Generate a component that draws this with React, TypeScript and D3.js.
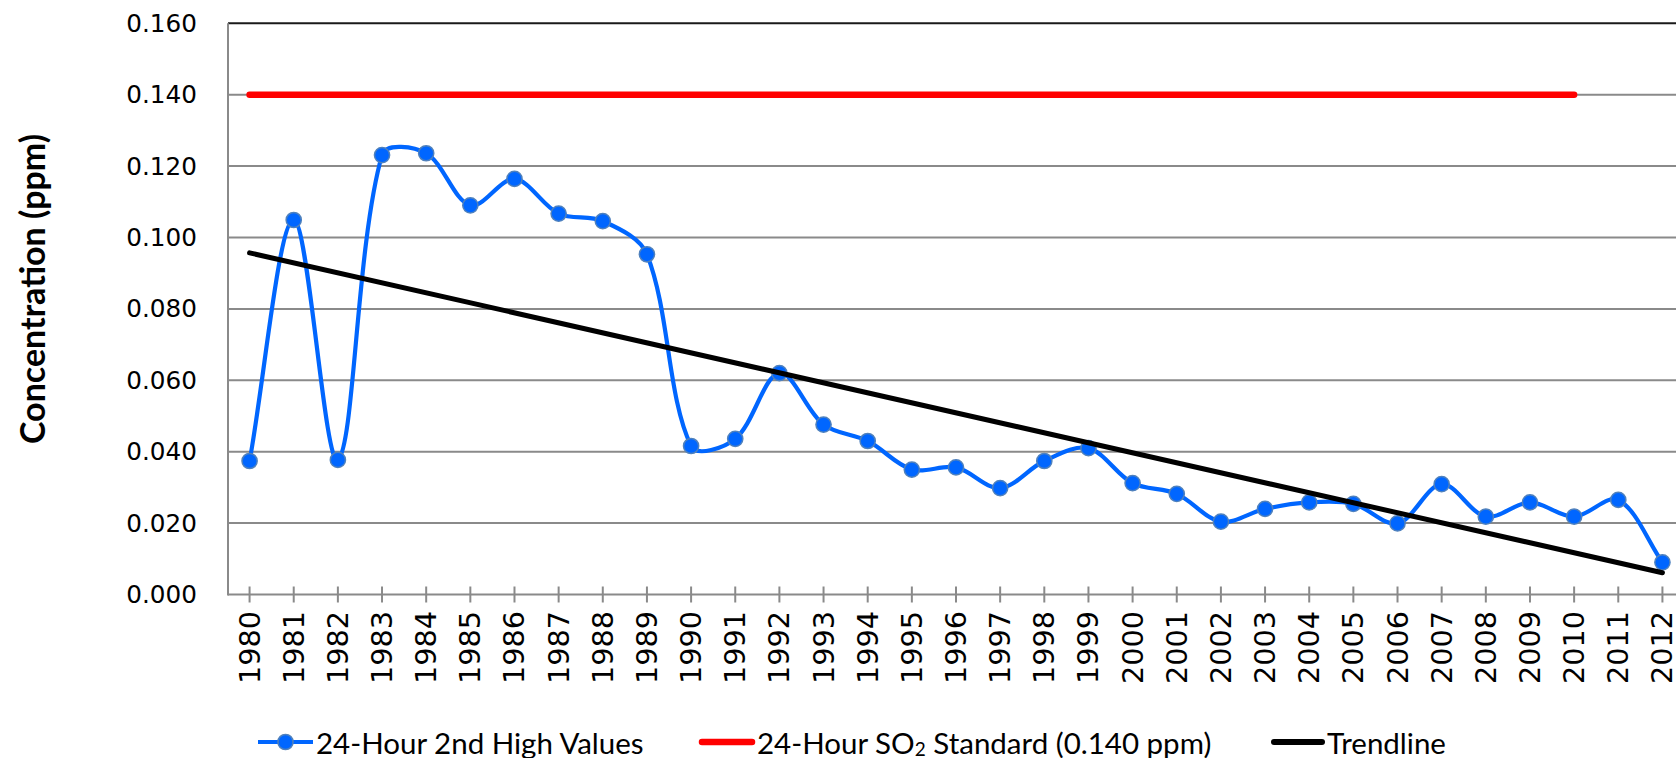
import React from "react";
import * as d3 from "d3";

const years: string[] = [
  "1980","1981","1982","1983","1984","1985","1986","1987","1988","1989",
  "1990","1991","1992","1993","1994","1995","1996","1997","1998","1999",
  "2000","2001","2002","2003","2004","2005","2006","2007","2008","2009",
  "2010","2011","2012",
];

const secondHighValues: number[] = [
  0.0374, 0.1049, 0.0377, 0.1231, 0.1236, 0.1090, 0.1164, 0.1067, 0.1046, 0.0953,
  0.0416, 0.0436, 0.0620, 0.0476, 0.0430, 0.0350, 0.0356, 0.0298, 0.0374, 0.0410,
  0.0312, 0.0282, 0.0204, 0.0240, 0.0258, 0.0254, 0.0199, 0.0309, 0.0218, 0.0258,
  0.0218, 0.0265, 0.0090,
];

const standardYears: string[] = ["1980", "2010"];
const standardValues: number[] = [0.14, 0.14];

const trendYears: string[] = ["1980", "2012"];
const trendValues: number[] = [0.0957, 0.0061];

const yTicks: number[] = [0, 0.02, 0.04, 0.06, 0.08, 0.1, 0.12, 0.14, 0.16];

const legendLabels: string[] = ["24-Hour 2nd High Values", "24-Hour SO", "Trendline"];

const W = 1676;
const H = 758;
const left = 228;
const right = 1685;
const top = 23.3;
const bottom = 594.5;

const BLUE = "#0066FF";
const RED = "#FF0000";
const GRID = "#8A8A8A";

// Spreadsheet-style smoothed line: Bezier control points scaled by segment lengths
function smoothPath(pts: [number, number][]): string {
  const p = d3.path();
  if (!pts.length) return "";
  p.moveTo(pts[0][0], pts[0][1]);
  const dist = (a: [number, number], b: [number, number]) => Math.hypot(b[0] - a[0], b[1] - a[1]);
  for (let i = 0; i < pts.length - 1; i++) {
    const p0 = pts[i - 1] || pts[i];
    const p1 = pts[i];
    const p2 = pts[i + 1];
    const p3 = pts[i + 2] || pts[i + 1];
    const d01 = dist(p0, p1);
    const d12 = dist(p1, p2);
    const d23 = dist(p2, p3);
    const f1 = d01 + d12 > 0 ? d12 / (3 * (d01 + d12)) : 0;
    const f2 = d12 + d23 > 0 ? d12 / (3 * (d12 + d23)) : 0;
    const c1x = p1[0] + (p2[0] - p0[0]) * f1;
    const c1y = p1[1] + (p2[1] - p0[1]) * f1;
    const c2x = p2[0] - (p3[0] - p1[0]) * f2;
    const c2y = p2[1] - (p3[1] - p1[1]) * f2;
    p.bezierCurveTo(c1x, c1y, c2x, c2y, p2[0], p2[1]);
  }
  return p.toString();
}

export default function App() {
  const x = d3.scaleBand<string>().domain(years).range([left - 0.5, right - 0.5]).padding(0);
  const cx = (yr: string) => (x(yr) as number) + x.bandwidth() / 2;
  const y = d3.scaleLinear().domain([0, 0.16]).range([bottom, top]);

  const straight = d3
    .line<[string, number]>()
    .x((d) => cx(d[0]))
    .y((d) => y(d[1]));

  const series: [string, number][] = years.map((yr, i) => [yr, secondHighValues[i]]);
  const std: [string, number][] = standardYears.map((yr, i) => [yr, standardValues[i]]);
  const trend: [string, number][] = trendYears.map((yr, i) => [yr, trendValues[i]]);
  const seriesPx: [number, number][] = series.map((d) => [cx(d[0]), y(d[1])]);

  const tickFont = "'DejaVu Sans', sans-serif";
  const textFont = "Lato, 'Open Sans', sans-serif";
  const legY = 742;

  return (
    <svg
      width={W}
      height={H}
      style={{ position: "absolute", left: 0, top: 0, background: "#fff" }}
    >
      <rect x={0} y={0} width={W} height={H} fill="#fff" />
      {/* gridlines */}
      {yTicks
        .filter((t) => t > 0 && t < 0.16)
        .map((t) => (
          <line key={t} x1={left} x2={W} y1={y(t)} y2={y(t)} stroke={GRID} strokeWidth={2} />
        ))}
      <line x1={left} x2={W} y1={y(0.16)} y2={y(0.16)} stroke="#1a1a1a" strokeWidth={2} />
      {/* y axis */}
      <line x1={left} x2={left} y1={y(0.16)} y2={bottom + 1} stroke={GRID} strokeWidth={2} />
      {/* x axis */}
      <line x1={left} x2={W} y1={bottom} y2={bottom} stroke={GRID} strokeWidth={2} />
      {years.map((yr) => (
        <line key={"t" + yr} x1={cx(yr)} x2={cx(yr)} y1={bottom - 8} y2={bottom + 8} stroke={GRID} strokeWidth={2} />
      ))}
      {/* y tick labels */}
      {yTicks.map((t) => (
        <text
          key={"yl" + t}
          x={197}
          y={y(t)}
          textAnchor="end"
          dominantBaseline="central"
          fontFamily={tickFont}
          fontSize={24.7}
          fill="#000"
        >
          {d3.format(".3f")(t)}
        </text>
      ))}
      {/* x tick labels */}
      {years.map((yr) => (
        <text
          key={"xl" + yr}
          transform={`translate(${cx(yr)},611) rotate(-90)`}
          textAnchor="end"
          dominantBaseline="central"
          fontFamily={tickFont}
          fontSize={28.7}
          fill="#000"
        >
          {yr}
        </text>
      ))}
      {/* axis title */}
      <text
        transform={`translate(31,289) rotate(-90)`}
        textAnchor="middle"
        dominantBaseline="central"
        fontFamily={textFont}
        fontWeight="bold"
        fontSize={34}
        fill="#000"
      >
        Concentration (ppm)
      </text>
      {/* standard line */}
      <path d={straight(std) || ""} fill="none" stroke={RED} strokeWidth={6.5} strokeLinecap="round" />
      {/* series */}
      <path d={smoothPath(seriesPx)} fill="none" stroke={BLUE} strokeWidth={4.2} strokeLinejoin="round" />
      {series.map((d) => (
        <circle key={"m" + d[0]} cx={cx(d[0])} cy={y(d[1])} r={7.6} fill={BLUE} stroke="#4F81BD" strokeWidth={1.5} />
      ))}
      {/* trendline */}
      <path d={straight(trend) || ""} fill="none" stroke="#000" strokeWidth={5} strokeLinecap="round" />
      {/* legend */}
      <line x1={258} x2={313} y1={legY} y2={legY} stroke={BLUE} strokeWidth={4.2} />
      <circle cx={285.5} cy={legY} r={7.6} fill={BLUE} stroke="#4F81BD" strokeWidth={1.5} />
      <text x={316} y={legY} dominantBaseline="central" fontFamily={textFont} fontSize={29.5} fill="#000">
        {legendLabels[0]}
      </text>
      <line x1={702} x2={752} y1={legY} y2={legY} stroke={RED} strokeWidth={6.5} strokeLinecap="round" />
      <text x={757} y={legY} dominantBaseline="central" fontFamily={textFont} fontSize={29.5} fill="#000">
        {legendLabels[1]}
        <tspan fontSize={19} dy={6}>2</tspan>
        <tspan dy={-6}> Standard (0.140 ppm)</tspan>
      </text>
      <line x1={1274} x2={1322} y1={legY} y2={legY} stroke="#000" strokeWidth={6} strokeLinecap="round" />
      <text x={1327} y={legY} dominantBaseline="central" fontFamily={textFont} fontSize={29.5} fill="#000">
        {legendLabels[2]}
      </text>
    </svg>
  );
}
